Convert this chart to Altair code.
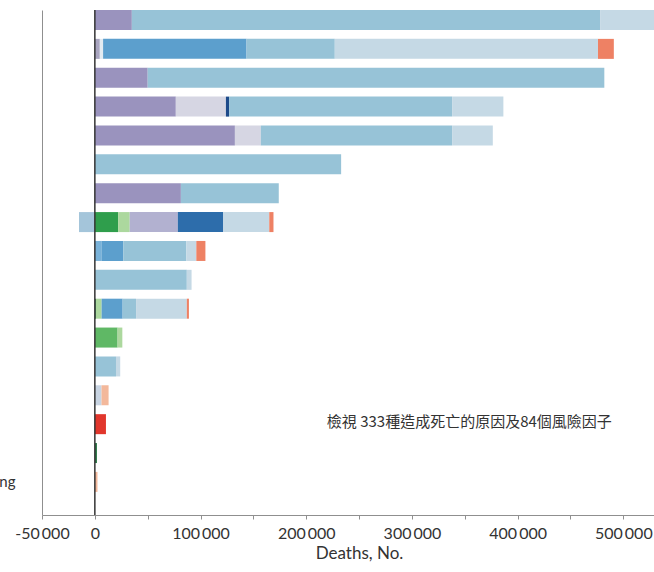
import altair as alt
import pandas as pd

# ---- data ----
rows = [str(i) for i in range(1, 18)]
row_tick_labels = [""] * 16 + ["ng"]

PURPLE = "#9a93be"
PGRAY = "#a9a5c0"
MED = "#97c3d7"
MED2 = "#a4c5da"
LIGHT = "#c5d9e5"
WHITEISH = "#e3ebf1"
STEEL = "#5c9fcd"
STEEL_L = "#79b2d9"
DARK = "#2d6dab"
NAVY = "#1d4a8a"
GRAY = "#d6d6e3"
LAV = "#b2b1d0"
GREEN = "#2f9e4c"
GREEN2 = "#5fb865"
LGREEN = "#acd89e"
SALMON = "#ee8164"
LSALMON = "#f3b89b"
RED = "#e1362c"
DGREEN = "#2b7a48"
GBLUE = "#c8d4e2"

# segment lengths (deaths) in stacking order, per row
seg_row = (["1"] * 3 + ["2"] * 6 + ["3"] * 2 + ["4"] * 5 + ["5"] * 4 + ["6"] * 1 +
           ["7"] * 2 + ["8"] * 7 + ["9"] * 5 + ["10"] * 2 + ["11"] * 6 + ["12"] * 2 +
           ["13"] * 2 + ["14"] * 2 + ["15"] + ["16"] + ["17"])
seg_value = [
    35000, 443000, 82000,
    4700, 3100, 135700, 83500, 249000, 15000,
    50000, 432000,
    76600, 47400, 3000, 211000, 48500,
    132500, 24500, 181000, 38500,
    233000,
    81400, 92600,
    -15000, 22000, 11000, 45500, 43000, 43500, 4000,
    6600, 20400, 59600, 9400, 8600,
    87000, 4500,
    1000, 5400, 19900, 12700, 48000, 2000,
    21500, 4500,
    20000, 4000,
    6300, 6700,
    10500,
    2000,
    2500,
]
seg_color = [
    PURPLE, MED, LIGHT,
    PGRAY, WHITEISH, STEEL, MED, LIGHT, SALMON,
    PURPLE, MED,
    PURPLE, GRAY, NAVY, MED, LIGHT,
    PURPLE, GRAY, MED, LIGHT,
    MED,
    PURPLE, MED,
    MED2, GREEN, LGREEN, LAV, DARK, LIGHT, SALMON,
    STEEL_L, STEEL, MED, LIGHT, SALMON,
    MED, LIGHT,
    DGREEN, LGREEN, STEEL, MED, LIGHT, SALMON,
    GREEN2, LGREEN,
    MED, LIGHT,
    GBLUE, LSALMON,
    RED,
    DGREEN,
    LSALMON,
]

x_ticks = [-50000, 0, 50000, 100000, 150000, 200000, 250000, 300000, 350000, 400000, 450000, 500000]
x_labelled = [-50000, 0, 100000, 200000, 300000, 400000, 500000]

note_text = ["檢視 333種造成死亡的原因及84個風險因子"]
note_x = [219500]
note_row = ["15"]

df = pd.DataFrame({
    "row": seg_row,
    "value": seg_value,
    "color": seg_color,
    "seg": list(range(len(seg_row))),
})
note_df = pd.DataFrame({"text": note_text, "x": note_x, "row": note_row})
zero_df = pd.DataFrame({"x": [0]})

FONT = "Lato"
TXT = "#333333"
AXIS_GRAY = "#8f8f8f"

lab_expr = ("indexof([" + ",".join(str(v) for v in x_labelled) +
            "], datum.value) >= 0 ? replace(replace(format(datum.value, ','), ',', '\u2009'), '\u2212', '-') : ''")
ylab_expr = "{" + ",".join(f"'{r}': '{l}'" for r, l in zip(rows, row_tick_labels)) + "}[datum.value]"

x_scale = alt.Scale(domain=[-50000, 529000], nice=False, zero=False)
y_scale = alt.Scale(domain=rows, paddingInner=0.307, paddingOuter=0.4, align=0)

bars = alt.Chart(df).mark_bar(clip=True).encode(
    x=alt.X("value:Q", scale=x_scale, stack="zero",
            axis=alt.Axis(values=x_ticks, labelExpr=lab_expr, title="Deaths, No.",
                          grid=False, domainColor=AXIS_GRAY, tickColor=AXIS_GRAY,
                          tickSize=4, labelPadding=6, labelFont=FONT, labelFontSize=16,
                          labelColor=TXT, titleFont=FONT, titleFontSize=17,
                          titleFontWeight="normal", titleColor=TXT, titlePadding=4,
                          titleX=317, labelFlush=False)),
    y=alt.Y("row:N", scale=y_scale, sort=rows,
            axis=alt.Axis(title=None, ticks=False, labelExpr=ylab_expr, labelPadding=27,
                          domainColor=AXIS_GRAY, labelFont=FONT, labelFontSize=15,
                          labelColor=TXT, labelAlign="right")),
    color=alt.Color("color:N", scale=None),
    order=alt.Order("seg:Q"),
)

zero_rule = alt.Chart(zero_df).mark_rule(color="#333333", strokeWidth=1.5).encode(
    x=alt.X("x:Q")
)

note = alt.Chart(note_df).mark_text(
    align="left", baseline="middle", font="Noto Sans CJK TC",
    fontSize=15, color=TXT, dy=-2
).encode(
    x=alt.X("x:Q"),
    y=alt.Y("row:N"),
    text="text:N",
)

chart = alt.layer(bars, zero_rule, note).properties(
    width=612,
    height=505,
    autosize=alt.AutoSizeParams(type="none"),
    padding={"left": 42, "top": 10, "right": 0, "bottom": 57},
).configure_view(stroke=None)

chart.save("out.html", embed_options={"renderer": "svg", "actions": False})
